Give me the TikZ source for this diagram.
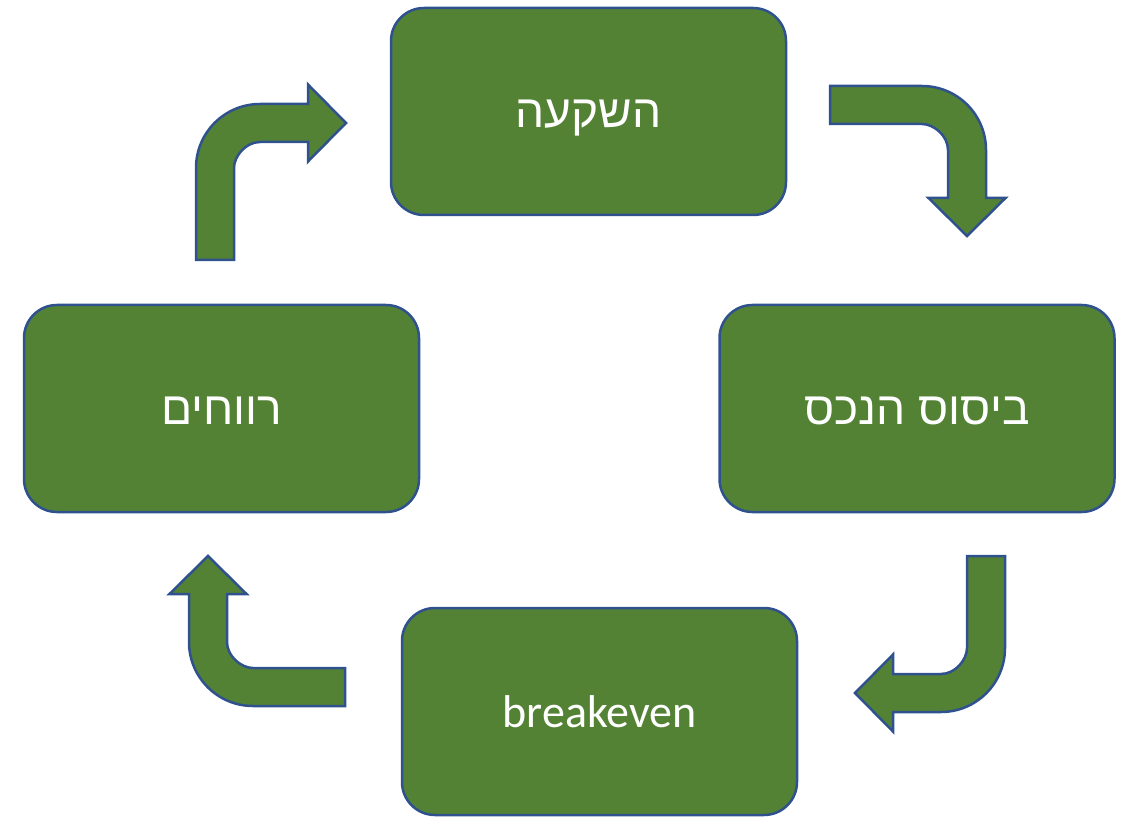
\documentclass[tikz,border=0pt]{standalone}
\usepackage{fontspec}
\setmainfont{Carlito}
\newfontfamily\hebfont[Script=Hebrew]{Liberation Sans}
\TeXXeTstate=1
\definecolor{boxgreen}{HTML}{548235}
\definecolor{boxblue}{HTML}{2F528F}
\tikzset{
    bentarrow/.pic = {
        \path[arrowshape] (0,156) -- (0,64) .. controls (0,28.65) and (28.65,0) .. (64,0)
            -- (112,0) -- (112,-19.5) -- (150,19) -- (112,57.5) -- (112,38) -- (64,38)
            .. controls (49.64,38) and (38,52.36) .. (38,64) -- (38,156) -- cycle;
    }
}
\begin{document}
\begin{tikzpicture}[x = 1pt, y = -1pt,
                    stage/.style = {draw = boxblue, fill = boxgreen, line width = 2.5pt,
                                    rounded corners = 33pt, minimum width = 395pt,
                                    minimum height = 207pt, text = white,
                                    text height = 32pt, text depth = 0pt,
                                    font = \fontsize{46}{55}\selectfont},
                    arrowshape/.style = {draw = boxblue, fill = boxgreen, line width = 2.5pt}]
                    \useasboundingbox (0,0) rectangle (1128,818);

                    \node[stage] (invest)    at (588.5, 111.5) {\hebfont\beginR השקעה\endR};
                    \node[stage] (establish) at (  917, 408.5) {\hebfont\beginR ביסוס הנכס\endR};
                    \node[stage] (breakeven) at (599.5, 711.5) {breakeven};
                    \node[stage] (profit)    at (221.5, 408.5) {\hebfont\beginR רווחים\endR};

                    \pic               at ( 196, 104) {bentarrow};
                    \pic[rotate = -90] at ( 986,  86) {bentarrow};
                    \pic[rotate = 180] at (1005, 712) {bentarrow};
                    \pic[rotate =  90] at ( 189, 706) {bentarrow};
                \end{tikzpicture}
\end{document}
